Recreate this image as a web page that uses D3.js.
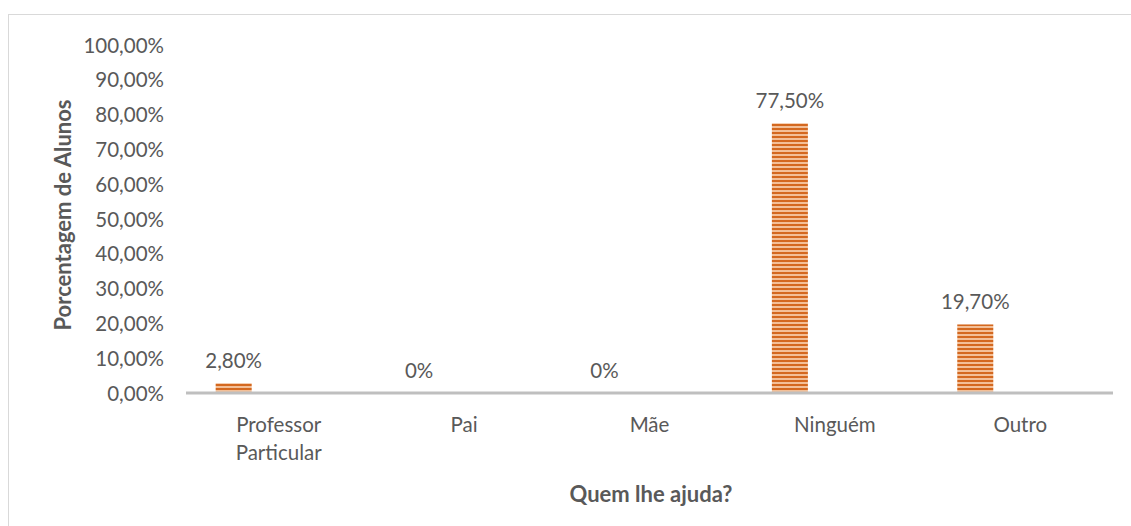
<!DOCTYPE html>
<html>
<head>
<meta charset="utf-8">
<script src="https://cdn.jsdelivr.net/npm/d3@7"></script>
<style>
  html, body { margin: 0; padding: 0; background: #fff; }
  svg { display: block; }
  text { font-family: Lato, "Open Sans", sans-serif; fill: #595959; }
</style>
</head>
<body>
<svg id="chart" width="1131" height="526"></svg>
<script>
// Chart data
const categories = ["Professor Particular", "Pai", "Mãe", "Ninguém", "Outro"];
const values = [2.8, 0, 0, 77.5, 19.7];
const valueLabels = ["2,80%", "0%", "0%", "77,50%", "19,70%"];
const series = ["Série 1", "Série 2"];
const yTicks = [0, 10, 20, 30, 40, 50, 60, 70, 80, 90, 100];
const yTitle = "Porcentagem de Alunos";
const xTitle = "Quem lhe ajuda?";

const svg = d3.select("#chart");
const W = 1131, H = 526;
const FS = 20.5;

// Outer chart frame (runs past the right and bottom edges)
svg.append("rect")
  .attr("x", 8.5).attr("y", 14.5)
  .attr("width", W).attr("height", H)
  .attr("fill", "#fff").attr("stroke", "#d9d9d9").attr("stroke-width", 1);

// Striped fill for the bars
const defs = svg.append("defs");
const pat = defs.append("pattern")
  .attr("id", "stripes").attr("patternUnits", "userSpaceOnUse")
  .attr("width", 8).attr("height", 4);
pat.append("rect").attr("width", 8).attr("height", 4).attr("fill", "#f3bf97");
pat.append("rect").attr("y", 0).attr("width", 8).attr("height", 2).attr("fill", "#d4681f");

const plot = { left: 186, right: 1113, top: 45, bottom: 393 };

const x = d3.scaleBand().domain(categories).range([plot.left, plot.right]).padding(0);
const xs = d3.scaleBand().domain(series)
  .range([x.bandwidth() * 0.16, x.bandwidth() * 0.84]).paddingInner(0.6).paddingOuter(0);
const y = d3.scaleLinear().domain([0, 100]).range([plot.bottom, plot.top]);

const fmt = v => d3.format(".2f")(v).replace(".", ",") + "%";

// Y axis tick labels
const yAxis = d3.axisLeft(y).tickValues(yTicks).tickFormat(fmt).tickSize(0).tickPadding(0);
const gy = svg.append("g").attr("transform", `translate(164,0)`).call(yAxis);
gy.select(".domain").remove();
gy.selectAll("text")
  .attr("font-size", FS).attr("fill", "#595959")
  .attr("font-family", "Lato, 'Open Sans', sans-serif")
  .attr("dy", "0.35em");

// Bars
const bars = svg.append("g");
bars.selectAll("rect").data(categories).join("rect")
  .attr("x", (c) => x(c) + xs(series[0]))
  .attr("width", xs.bandwidth())
  .attr("y", (c, i) => y(values[i]))
  .attr("height", (c, i) => y(0) - y(values[i]))
  .attr("fill", "url(#stripes)");

// X axis baseline
svg.append("line")
  .attr("x1", plot.left).attr("x2", plot.right)
  .attr("y1", y(0)).attr("y2", y(0))
  .attr("stroke", "#bfbfbf").attr("stroke-width", 3);

// Value labels
svg.append("g").selectAll("text").data(categories).join("text")
  .attr("x", (c) => x(c) + xs(series[0]) + xs.bandwidth() / 2)
  .attr("y", (c, i) => y(values[i]) - 23)
  .attr("text-anchor", "middle")
  .attr("dominant-baseline", "central")
  .attr("font-size", FS)
  .text((c, i) => valueLabels[i]);

// Category labels (wrapped on spaces)
const xl = svg.append("g").selectAll("text").data(categories).join("text")
  .attr("x", (c) => x(c) + x.bandwidth() / 2)
  .attr("y", 424)
  .attr("text-anchor", "middle")
  .attr("dominant-baseline", "central")
  .attr("font-size", FS);
xl.each(function (c) {
  const words = c.split(" ");
  const t = d3.select(this);
  words.forEach((w, k) => {
    t.append("tspan")
      .attr("x", x(c) + x.bandwidth() / 2)
      .attr("dy", k === 0 ? 0 : 28)
      .text(w);
  });
});

// Axis titles
svg.append("text")
  .attr("transform", `translate(62,215) rotate(-90)`)
  .attr("text-anchor", "middle").attr("dominant-baseline", "central")
  .attr("font-size", 22).attr("font-weight", "bold")
  .text(yTitle);

svg.append("text")
  .attr("x", 651).attr("y", 493)
  .attr("text-anchor", "middle").attr("dominant-baseline", "central")
  .attr("font-size", 22).attr("font-weight", "bold")
  .text(xTitle);
</script>
</body>
</html>
